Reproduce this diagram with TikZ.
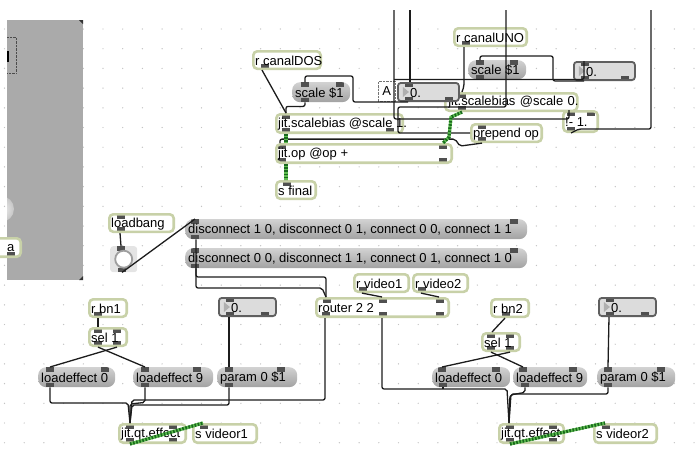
\documentclass[tikz,border=0pt]{standalone}
\usepackage{fontspec}
\setmainfont{Liberation Sans}
\usetikzlibrary{calc}

\definecolor{objedge}{RGB}{200,209,168}
\definecolor{portgray}{RGB}{80,80,80}
\definecolor{msgtop}{RGB}{210,210,210}
\definecolor{msgbot}{RGB}{162,162,162}
\definecolor{numfill}{RGB}{220,220,220}
\definecolor{numedge}{RGB}{95,95,95}
\definecolor{numtri}{RGB}{175,175,175}
\definecolor{panelgray}{RGB}{170,170,170}
\definecolor{dotgray}{RGB}{195,195,195}
\definecolor{cordblack}{RGB}{28,28,28}
\definecolor{mxdark}{RGB}{25,105,30}
\definecolor{mxlight}{RGB}{95,190,80}
\definecolor{bangfill}{RGB}{228,228,228}

\newcommand{\inlets}[1]{\foreach \p in {#1} \fill[port] ([xshift=\p pt]path picture bounding box.north west) rectangle ++(8pt,-4.5pt);}
\newcommand{\outlets}[1]{\foreach \p in {#1} \fill[port] ([xshift=\p pt]path picture bounding box.south west) rectangle ++(8pt,4.5pt);}

\tikzset{
  lbl/.style={anchor=west, inner xsep=3pt, inner ysep=0pt, yshift=-0.8pt, text=black, font=\fontsize{13}{15}\selectfont},
  txt/.style={label={[lbl]west:{#1}}},
  box/.style={anchor=north west, inner sep=0pt},
  obj/.style={box, draw=objedge, line width=2.6pt, fill=white, rounded corners=4pt, minimum height=17.5pt},
  msg/.style={box, top color=msgtop, bottom color=msgbot, rounded corners=8pt, minimum height=20pt},
  num/.style={box, draw=numedge, line width=1.8pt, fill=numfill, rounded corners=3pt, minimum height=18.2pt},
  bangbox/.style={box, fill=bangfill, rounded corners=3pt, minimum width=27pt, minimum height=26pt},
  cmt/.style={box, draw=black!55, densely dotted, minimum width=17pt, minimum height=20pt, font=\fontsize{13}{15}\selectfont},
  port/.style={fill=portgray, sharp corners},
  io/.style 2 args={path picture={\inlets{#1}\outlets{#2}}},
  ins/.style={path picture={\inlets{#1}}},
  outs/.style={path picture={\outlets{#1}}},
  numio/.style 2 args={path picture={\fill[numtri, sharp corners] ([xshift=5pt,yshift=5pt]path picture bounding box.west) -- ([xshift=5pt,yshift=-5pt]path picture bounding box.west) -- ([xshift=11pt]path picture bounding box.west) -- cycle; \inlets{#1}\outlets{#2}}},
  cord/.style={draw=cordblack, line width=1.3pt, rounded corners=2pt},
  mcord/.style={draw=mxlight, line width=3.2pt, postaction={draw=mxdark, dash pattern=on 1.6pt off 1.6pt}},
}

\begin{document}
\begin{tikzpicture}[x=1pt, y=-1pt]
  \clip (0,0) rectangle (699,450);
  \foreach \i in {0,...,35} {\foreach \j in {0,...,21} {\fill[dotgray] (4.5+19.7*\i,29+19.7*\j) circle (0.7pt);}}

  \fill[panelgray] (7,20) rectangle (83,280);
  \begin{scope}
    \clip (7,20) rectangle (83,280);
    \shade[inner color=white!90!gray, outer color=gray!45] (1,209) circle (13pt);
  \end{scope}
  \draw[black!70, densely dotted] (7,37) -| (16,73) -- (7,73);
  \fill[black] (7,51) rectangle (9,62);
  \fill[black!80] (79,20) -- (83,20) -- (83,24) -- cycle;
  \fill[black!80] (83,276) -- (83,280) -- (79,280) -- cycle;
  \node[obj, outs={16}, minimum width=29.4pt, minimum height=18.4pt, txt={\hspace*{14pt}a}] (pnla) at (-10,237) {};

  \coordinate (topA) at (394,10);
  \coordinate (topB) at (410,10);
  \coordinate (topC) at (506,10);
  \coordinate (topD) at (651,10);

  \node[obj, outs={8}, minimum width=67.4pt, txt={r canalDOS}] (cdos) at (252,50) {};
  \node[obj, outs={8}, minimum width=72.4pt, txt={r canalUNO}] (cuno) at (453,27) {};
  \node[msg, io={9,44}{9}, minimum width=58pt, txt={scale \$1}] (scl1) at (292,82) {};
  \node[msg, io={8,42}{8}, minimum width=58pt, minimum height=19pt, txt={scale \$1}] (scl2) at (468,60) {};
  \node[obj, io={13}{13}, inner xsep=3pt, text width=126pt, align=left, font=\fontsize{13}{15}\selectfont] (sb0) at (444,92) {\mbox{jit.scalebias @scale 0.}};
  \node[cmt] (cmtA) at (378,81) {A};
  \node[num, numio={7}{7,47}, minimum width=61pt, txt={\hspace*{10pt}0.}] (n0a) at (397,82) {};
  \node[num, numio={7}{7,47}, minimum width=61pt, txt={\hspace*{10pt}0.}] (n0b) at (573,61) {};
  \node[obj, io={6}{6,110}, minimum width=126.4pt, minimum height=18.4pt, txt={jit.scalebias @scale 1.}] (sb1) at (275,113) {};
  \node[obj, io={4,24}{4}, minimum width=34.4pt, minimum height=20.4pt, txt={!- 1.}] (minus) at (562,110) {};
  \node[obj, io={7}{7}, minimum width=70.4pt, txt={prepend op}] (prep) at (470,123) {};
  \node[obj, io={2,163}{2,163}, minimum width=175.4pt, minimum height=18.4pt, txt={jit.op @op +}] (op) at (275,143) {};
  \node[obj, ins={7}, minimum width=39.4pt, txt={s final}] (sfinal) at (275,180) {};

  \node[obj, io={8}{8}, minimum width=64.4pt, txt={loadbang}] (loadb) at (108,213) {};
  \node[bangbox, io={7}{8}] (bang) at (110,246) {};
  \draw[line width=1.8pt, draw=gray!75, fill=white] (bang.center) circle (8.5pt);
  \node[msg, io={6,325}{6}, minimum width=342pt, txt={disconnect 1 0, disconnect 0 1, connect 0 0, connect 1 1}] (dis1) at (185,219) {};
  \node[msg, io={6,325}{6}, minimum width=342pt, txt={disconnect 0 0, disconnect 1 1, connect 0 1, connect 1 0}] (dis2) at (185,248) {};
  \node[obj, outs={5}, minimum width=54.4pt, txt={r video1}] (vid1) at (353,273) {};
  \node[obj, outs={5}, minimum width=54.4pt, txt={r video2}] (vid2) at (412,273) {};
  \node[obj, io={7,63,120}{6,63,120}, minimum width=132.4pt, minimum height=18.4pt, txt={router 2 2}] (router) at (315,297) {};

  \node[obj, outs={5}, minimum width=37.4pt, txt={r bn1}] (bn1) at (88,298) {};
  \node[obj, io={5,24}{5,24}, minimum width=37.4pt, txt={sel 1}] (sel1) at (88,327) {};
  \node[num, numio={7}{7,42}, minimum width=57pt, txt={\hspace*{10pt}0.}] (n0c) at (218,297) {};
  \node[msg, io={8,63}{8}, minimum width=77pt, txt={loadeffect 0}] (le0a) at (38,367) {};
  \node[msg, io={8,60}{8}, minimum width=80pt, txt={loadeffect 9}] (le9a) at (133,367) {};
  \node[msg, io={8,60}{8}, minimum width=80pt, txt={param 0 \$1}] (pa1) at (217,367) {};
  \node[obj, io={7,50}{7,50}, minimum width=66.4pt, minimum height=18.4pt, txt={jit.qt.effect}] (qt1) at (118,423) {};
  \node[obj, ins={7}, minimum width=63.4pt, minimum height=18.4pt, txt={s videor1}] (sv1) at (192,423) {};

  \node[obj, outs={11}, minimum width=37.4pt, txt={r bn2}] (bn2) at (490,298) {};
  \node[obj, io={5,24}{5,24}, minimum width=37.4pt, txt={sel 1}] (sel2) at (481,332) {};
  \node[num, numio={7}{7,42}, minimum width=57pt, txt={\hspace*{10pt}0.}] (n0d) at (598,297) {};
  \node[msg, io={6,60}{7}, minimum width=78pt, txt={loadeffect 0}] (le0b) at (432,367) {};
  \node[msg, io={6,56}{8}, minimum width=74pt, txt={loadeffect 9}] (le9b) at (513,367) {};
  \node[msg, io={7,60}{7}, minimum width=78pt, txt={param 0 \$1}] (pa2) at (597,367) {};
  \node[obj, io={7,50}{7,50}, minimum width=64.4pt, minimum height=18.4pt, txt={jit.qt.effect}] (qt2) at (498,423) {};
  \node[obj, ins={8}, minimum width=62.4pt, minimum height=18.4pt, txt={s videor2}] (sv2) at (593,423) {};

  \draw[cord] ($(cdos.south west)+(10,0)$) -- ($(sb1.north west)+(11,0)$);
  \draw[cord] ($(scl1.south west)+(13,0)$) -- ++(0,4) -| ($(sb1.north west)+(11,0)$);
  \draw[cord] ($(n0a.south west)+(11,0)$) -- ++(-55,0) |- ($(scl1.north west)+(13,-6)$) -- ($(scl1.north west)+(13,0)$);
  \draw[cord] (topB) -- (topB |- n0a.north);
  \draw[cord] (topA) |- ($(minus.north west)+(7,9)$) -- ($(minus.north west)+(7,0)$);
  \draw[cord] (topC) |- ($(n0a.north west)+(1,25)$) |- (prep.west);
  \draw[cord] ($(cuno.south west)+(11,0)$) -- ++(0,39) -- ($(sb0.north west)+(18,0)$);
  \draw[cord] ($(n0b.north west)+(11,0)$) |- (topA |- scl2.south);
  \draw[cord] ($(n0b.south west)+(11,0)$) -- ++(-31,0) |- ($(scl2.north west)+(12,-4)$) -- ($(scl2.north west)+(12,0)$);
  \draw[cord] ($(minus.south west)+(9,0)$) -- ++(8,-4) -| (topD);
  \draw[cord] ($(prep.south west)+(12,0)$) -- ++(-22,3) -- ++(-5,-7) -| ($(op.north west)+(5,0)$);
  \draw[mcord] ($(sb1.south west)+(11,0)$) -- ($(op.north west)+(11,0)$);
  \draw[mcord] ($(op.south west)+(11,0)$) -- ($(sfinal.north west)+(11,0)$);
  \draw[mcord] ($(sb0.south west)+(18,0)$) -- ++(-11,5) -- ++(-2,20) -- ($(op.north east)+(-10,0)$);

  \draw[cord] ($(loadb.south west)+(12,0)$) -- ($(bang.north west)+(11,0)$);
  \draw[cord] ($(bang.south west)+(12,0)$) -- ($(dis1.north west)+(10,0)$);
  \draw[cord] ($(dis1.south west)+(11,0)$) |- ($(router.north west)+(7,-9)$) -- ($(router.north west)+(11,0)$);
  \draw[cord] ($(dis2.south west)+(11,0)$) |- ($(router.north west)+(11,-20)$) -- ($(router.north west)+(11,0)$);
  \draw[cord] ($(vid1.south west)+(9,0)$) -- ($(router.north west)+(67,0)$);
  \draw[cord] ($(vid2.south west)+(9,0)$) -- ($(router.north west)+(124,0)$);

  \draw[cord] ($(bn1.south west)+(10,0)$) -- ($(sel1.north west)+(10,0)$);
  \draw[cord] ($(sel1.south west)+(10,0)$) -- ($(le9a.north west)+(12,0)$);
  \draw[cord] ($(sel1.south west)+(29,0)$) -- ($(le0a.north west)+(12,0)$);
  \draw[cord] ($(n0c.south west)+(11,0)$) -- ($(pa1.north west)+(12,0)$);
  \draw[cord] ($(le0a.south west)+(12,0)$) |- ($(qt1.north west)+(10,-20)$) -- ($(qt1.north west)+(12,0)$);
  \draw[cord] ($(le9a.south west)+(12,0)$) -- ++(0,15) -- ($(qt1.north west)+(12,-19)$) -- ($(qt1.north west)+(12,0)$);
  \draw[cord] ($(pa1.south west)+(12,0)$) |- ($(qt1.north west)+(14,-18)$) -- ($(qt1.north west)+(12,0)$);
  \draw[cord] ($(router.south west)+(10,0)$) |- ($(qt1.north west)+(14,-23)$) -- ($(qt1.north west)+(12,0)$);
  \draw[mcord] ($(qt1.south west)+(12,0)$) -- ($(sv1.north west)+(11,0)$);

  \draw[cord] ($(bn2.south west)+(15,0)$) -- ($(sel2.north west)+(11,0)$);
  \draw[cord] ($(sel2.south west)+(10,0)$) -- ($(le9b.north west)+(10,0)$);
  \draw[cord] ($(sel2.south west)+(29,0)$) -- ($(le0b.north west)+(10,0)$);
  \draw[cord] ($(n0d.south west)+(11,0)$) -- ($(pa2.north west)+(11,0)$);
  \draw[cord] ($(router.south west)+(67,0)$) |- ($(qt2.north west)+(9,-34)$) -- ($(qt2.north west)+(11,0)$);
  \draw[cord] ($(le0b.south west)+(11,0)$) -- ++(0,2);
  \draw[cord] ($(le9b.south west)+(12,0)$) -- ++(0,5) -- ($(qt2.north west)+(12,-28)$) -- ($(qt2.north west)+(11,0)$);
  \draw[cord] ($(pa2.south west)+(11,0)$) |- ($(qt2.north west)+(13,-29)$) -- ($(qt2.north west)+(11,0)$);
  \draw[mcord] ($(qt2.south west)+(12,0)$) -- ($(sv2.north west)+(12,0)$);
\end{tikzpicture}
\end{document}
